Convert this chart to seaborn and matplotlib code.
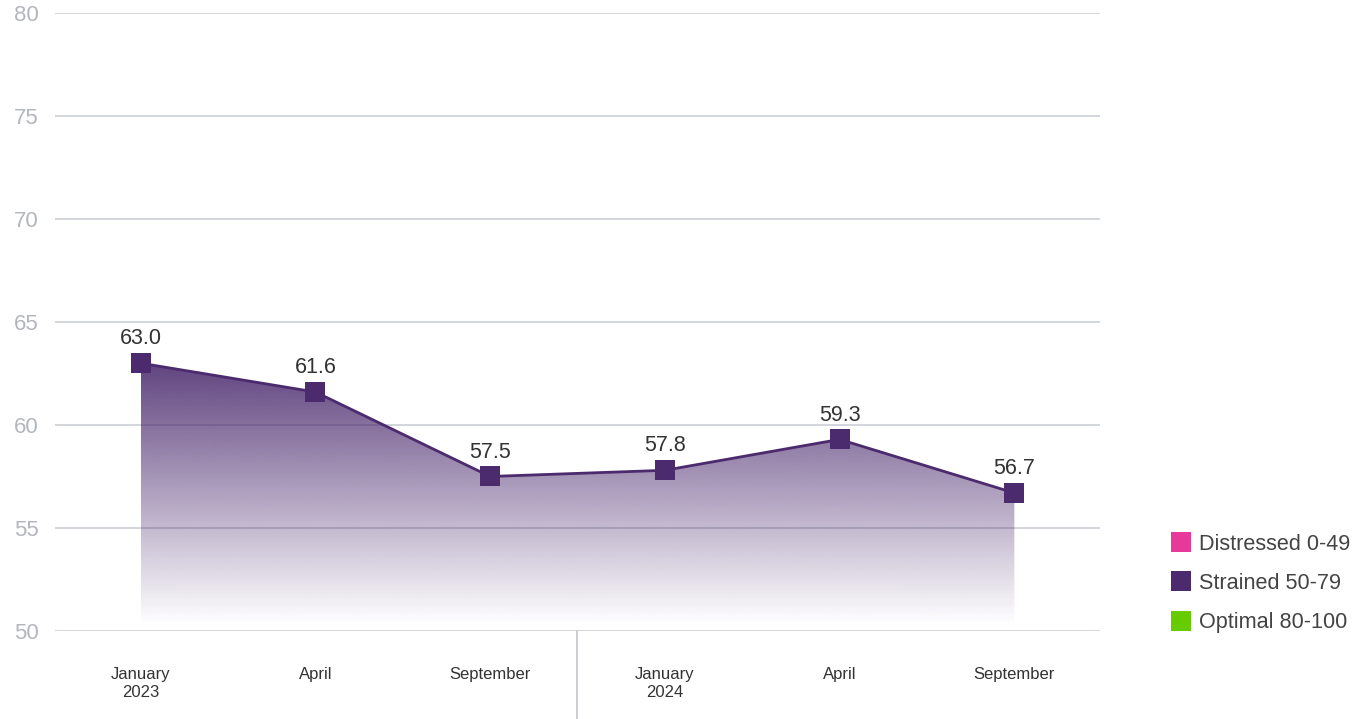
import numpy as np
import pandas as pd
import matplotlib
matplotlib.use('Agg')
import matplotlib.pyplot as plt
from matplotlib.lines import Line2D
import seaborn as sns

# data
periods = ['January\n2023', 'April', 'September', 'January\n2024', 'April', 'September']
scores = [63.0, 61.6, 57.5, 57.8, 59.3, 56.7]
legend_labels = ['Distressed 0-49', 'Strained 50-79', 'Optimal 80-100']
legend_colors = ['#e8399a', '#4b2a6e', '#66cc00']
y_ticks = [50, 55, 60, 65, 70, 75, 80]

df = pd.DataFrame({'pos': np.arange(len(periods)), 'period': periods, 'score': scores})

sns.set_style('white')
plt.rcParams['font.family'] = ['Liberation Sans', 'DejaVu Sans']

line_color = '#4b2a6e'

fig = plt.figure(figsize=(13.58, 7.19), dpi=100)
ax = fig.add_axes([0.0405, 0.1224, 0.7695, 0.8596])

# grid lines
for t in y_ticks:
    ax.axhline(t, color='#c6cacf', lw=1.1, zorder=0)

# gradient fill under the line
poly = ax.fill_between(df['pos'], df['score'], 50, facecolor='none', edgecolor='none')
top, bot = max(scores), 50.3
grad = np.linspace(1, 0, 256).reshape(-1, 1)
rgba = np.zeros((256, 1, 4))
rgba[..., :3] = matplotlib.colors.to_rgb(line_color)
rgba[..., 3] = 0.88 * grad
im = ax.imshow(rgba, extent=[df['pos'].min(), df['pos'].max(), bot, top],
               aspect='auto', origin='upper', zorder=1, interpolation='bilinear')
im.set_clip_path(poly.get_paths()[0], transform=ax.transData)

sns.lineplot(data=df, x='pos', y='score', ax=ax, color=line_color, lw=2,
             marker='s', markersize=14, markeredgewidth=0, zorder=3)

for x, y in zip(df['pos'], df['score']):
    ax.annotate(f'{y:.1f}', (x, y), xytext=(0, 10), textcoords='offset points',
                ha='center', va='bottom', fontsize=15.5, color='#333333')

ax.set_xlim(-0.49, 5.49)
ax.set_ylim(50, 80)
ax.set_yticks(y_ticks)
ax.set_yticklabels([str(t) for t in y_ticks], fontsize=16, color='#b3b7bc')
ax.set_xticks(df['pos'])
ax.set_xticklabels(periods, fontsize=12, color='#333333', linespacing=1.2)
ax.tick_params(axis='y', length=0, pad=12)
ax.tick_params(axis='x', length=0, pad=26)
ax.set_xlabel('')
ax.set_ylabel('')
for s in ax.spines.values():
    s.set_visible(False)

# year separator
ax.axvline(2.5, ymin=-0.15, ymax=0, color='#c6cacf', lw=1.3, clip_on=False)

handles = [Line2D([], [], marker='s', ls='', markersize=15, color=c, markeredgewidth=0)
           for c in legend_colors]
fig.legend(handles, legend_labels, loc='upper left', bbox_to_anchor=(0.8456, 0.285),
           frameon=False, fontsize=15.6, labelspacing=0.85, handletextpad=0.25,
           labelcolor='#444444', handlelength=1.2)

fig.savefig('out.png', dpi=100)
